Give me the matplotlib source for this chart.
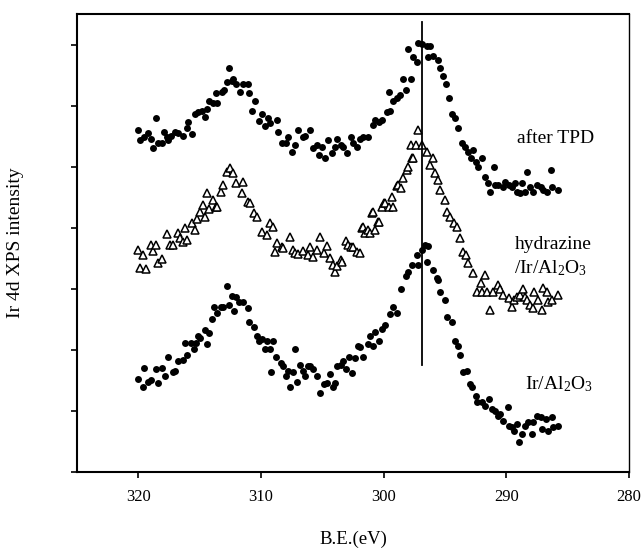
import matplotlib
matplotlib.use("Agg")
import matplotlib.pyplot as plt

plt.rcParams['font.family'] = ['Liberation Serif', 'DejaVu Serif']
plt.rcParams['mathtext.fontset'] = 'custom'
plt.rcParams['mathtext.rm'] = 'Liberation Serif'
plt.rcParams['mathtext.it'] = 'Liberation Serif:italic'

# ---- data: after TPD (filled circles) ----
tpd_x = [320.0, 319.9, 319.5, 319.2, 319.0, 318.8, 318.6, 318.4, 318.1, 317.9, 317.7, 317.6, 317.3, 317.0,
         316.8, 316.4, 316.0, 315.95, 315.6, 315.4, 315.1, 314.8, 314.6, 314.4, 314.2, 313.9, 313.7, 313.6,
         313.2, 313.0, 312.8, 312.6, 312.4, 312.3, 312.0, 311.7, 311.5, 311.1, 311.0, 310.7, 310.5, 310.2,
         309.9, 309.7, 309.4, 309.3, 308.7, 308.6, 308.3, 308.0, 307.8, 307.5, 307.2, 307.0, 306.6, 306.4,
         306.0, 305.8, 305.4, 305.3, 305.0, 304.8, 304.5, 304.2, 304.0, 303.8, 303.5, 303.3, 303.0, 302.7,
         302.5, 302.2, 301.9, 301.7, 301.3, 300.9, 300.7, 300.4, 300.1, 299.7, 299.6, 299.5, 299.2, 298.9,
         298.7, 298.4, 298.2, 298.0, 297.8, 297.6, 297.3, 297.2, 296.9, 296.5, 296.4, 296.2, 296.0, 295.6,
         295.4, 295.2, 294.9, 294.7, 294.4, 294.2, 293.9, 293.6, 293.4, 293.1, 292.9, 292.7, 292.5, 292.3,
         292.0, 291.7, 291.5, 291.3, 291.0, 290.9, 290.7, 290.3, 290.1, 289.8, 289.5, 289.3, 289.1, 288.9,
         288.7, 288.5, 288.3, 288.1, 287.8, 287.5, 287.2, 287.0, 286.7, 286.35, 286.25, 285.8]
tpd_y = [5.60, 5.43, 5.48, 5.55, 5.46, 5.30, 5.79, 5.38, 5.38, 5.56, 5.48, 5.43, 5.51, 5.56,
         5.55, 5.50, 5.64, 5.73, 5.53, 5.87, 5.89, 5.92, 5.82, 5.95, 6.08, 6.05, 6.20, 6.04,
         6.22, 6.26, 6.39, 6.62, 6.41, 6.43, 6.36, 6.22, 6.36, 6.36, 6.20, 5.91, 6.08, 5.74,
         5.87, 5.66, 5.79, 5.71, 5.76, 5.56, 5.38, 5.38, 5.48, 5.24, 5.35, 5.60, 5.48, 5.50,
         5.60, 5.30, 5.35, 5.19, 5.32, 5.15, 5.43, 5.22, 5.32, 5.46, 5.35, 5.32, 5.22, 5.48,
         5.38, 5.32, 5.46, 5.48, 5.48, 5.68, 5.76, 5.73, 5.77, 5.89, 6.22, 5.92, 6.08, 6.13,
         6.17, 6.43, 6.25, 6.92, 6.43, 6.79, 6.72, 7.03, 7.01, 6.98, 6.79, 6.97, 6.82, 6.74,
         6.61, 6.49, 6.36, 6.13, 5.87, 5.79, 5.64, 5.38, 5.32, 5.24, 5.14, 5.27, 5.07, 4.99,
         5.15, 4.83, 4.73, 4.58, 4.99, 4.70, 4.70, 4.67, 4.75, 4.70, 4.67, 4.73, 4.58, 4.57,
         4.73, 4.58, 4.91, 4.67, 4.58, 4.70, 4.67, 4.62, 4.58, 4.94, 4.67, 4.62]

# ---- data: hydrazine/Ir/Al2O3 (open triangles) ----
hyd_x = [320.0, 319.9, 319.6, 319.4, 319.0, 318.8, 318.6, 318.4, 318.1, 317.7, 317.4, 317.2, 316.8, 316.6,
         316.4, 316.2, 316.0, 315.6, 315.4, 315.2, 315.0, 314.7, 314.6, 314.4, 314.2, 313.9, 313.7, 313.6,
         313.3, 313.1, 312.8, 312.5, 312.3, 312.0, 311.55, 311.45, 311.1, 310.9, 310.6, 310.3, 309.9, 309.5,
         309.3, 309.0, 308.9, 308.7, 308.3, 308.2, 307.6, 307.4, 307.2, 307.0, 306.6, 306.2, 306.0, 305.8,
         305.4, 305.2, 304.9, 304.6, 304.4, 304.1, 304.0, 303.8, 303.5, 303.4, 303.1, 302.9, 302.7, 302.5,
         302.2, 301.9, 301.8, 301.7, 301.5, 301.3, 301.1, 300.95, 300.85, 300.7, 300.5, 300.4, 300.1, 300.0,
         299.9, 299.6, 299.3, 299.2, 298.9, 298.8, 298.6, 298.4, 298.1, 298.0, 297.8, 297.7, 297.6, 297.4,
         297.2, 296.9, 296.5, 296.2, 296.0, 295.8, 295.6, 295.4, 295.0, 294.8, 294.6, 294.3, 294.0, 293.8,
         293.5, 293.25, 293.15, 292.7, 292.4, 292.05, 291.95, 291.7, 291.6, 291.3, 291.1, 290.7, 290.5, 290.3,
         289.8, 289.5, 289.4, 289.1, 288.9, 288.6, 288.5, 288.3, 288.1, 287.85, 287.75, 287.4, 287.1, 287.0,
         286.7, 286.6, 286.3, 285.8]
hyd_y = [3.64, 3.34, 3.56, 3.33, 3.72, 3.62, 3.72, 3.43, 3.49, 3.90, 3.72, 3.72, 3.92, 3.83,
         3.77, 4.00, 3.80, 4.08, 3.96, 4.14, 4.26, 4.37, 4.18, 4.57, 4.31, 4.45, 4.34, 4.34,
         4.58, 4.70, 4.91, 4.98, 4.89, 4.73, 4.57, 4.75, 4.42, 4.40, 4.24, 4.18, 3.93, 3.88,
         4.08, 4.01, 3.61, 3.75, 3.69, 3.67, 3.85, 3.64, 3.59, 3.57, 3.62, 3.56, 3.69, 3.52,
         3.64, 3.85, 3.59, 3.70, 3.51, 3.39, 3.28, 3.38, 3.47, 3.44, 3.78, 3.72, 3.69, 3.69,
         3.61, 3.59, 4.00, 4.01, 3.92, 3.96, 3.92, 4.24, 4.26, 3.96, 4.09, 4.09, 4.34, 4.40,
         4.40, 4.34, 4.50, 4.34, 4.68, 4.70, 4.65, 4.81, 4.94, 4.99, 5.35, 5.15, 5.15, 5.35,
         5.60, 5.35, 5.24, 5.02, 5.15, 4.89, 4.78, 4.62, 4.45, 4.26, 4.18, 4.08, 4.01, 3.83,
         3.61, 3.56, 3.43, 3.26, 2.95, 3.10, 2.95, 3.23, 2.95, 2.66, 2.95, 3.07, 2.99, 2.90,
         2.85, 2.71, 2.82, 2.87, 2.90, 2.99, 2.87, 2.82, 2.74, 2.69, 2.95, 2.82, 2.66, 3.02,
         2.95, 2.79, 2.82, 2.90]

# ---- data: Ir/Al2O3 (filled circles) ----
ir_x = [320.0, 319.6, 319.5, 319.2, 319.0, 318.6, 318.4, 318.1, 317.8, 317.6, 317.2, 317.0, 316.8, 316.4,
        316.2, 316.0, 315.7, 315.5, 315.3, 315.1, 315.0, 314.6, 314.4, 314.2, 314.0, 313.8, 313.6, 313.3,
        313.1, 312.8, 312.6, 312.4, 312.2, 312.0, 311.8, 311.5, 311.1, 311.0, 310.6, 310.3, 310.2, 309.9,
        309.7, 309.5, 309.3, 309.2, 309.0, 308.8, 308.4, 308.2, 308.0, 307.8, 307.6, 307.4, 307.2, 307.1,
        306.8, 306.6, 306.4, 306.2, 306.0, 305.8, 305.4, 305.2, 304.9, 304.6, 304.4, 304.1, 304.0, 303.8,
        303.5, 303.3, 303.1, 302.8, 302.6, 302.3, 302.1, 301.9, 301.7, 301.3, 301.1, 300.9, 300.7, 300.4,
        300.1, 299.9, 299.5, 299.2, 298.9, 298.6, 298.2, 298.0, 297.7, 297.3, 297.2, 296.9, 296.6, 296.5,
        296.4, 296.0, 295.65, 295.55, 295.4, 295.0, 294.8, 294.4, 294.2, 293.9, 293.8, 293.5, 293.2, 293.0,
        292.8, 292.5, 292.4, 292.0, 291.7, 291.4, 291.2, 290.9, 290.7, 290.5, 290.3, 289.9, 289.8, 289.5,
        289.4, 289.1, 289.0, 288.7, 288.5, 288.2, 287.9, 287.8, 287.5, 287.2, 287.1, 286.8, 286.6, 286.3,
        286.2, 285.8]
ir_y = [1.52, 1.40, 1.71, 1.48, 1.50, 1.68, 1.45, 1.71, 1.57, 1.88, 1.63, 1.65, 1.81, 1.84,
        2.12, 1.92, 2.12, 2.02, 2.12, 2.23, 2.20, 2.33, 2.09, 2.28, 2.50, 2.71, 2.61, 2.71,
        2.71, 3.05, 2.74, 2.89, 2.63, 2.87, 2.79, 2.79, 2.69, 2.45, 2.38, 2.23, 2.14, 2.17,
        2.01, 2.14, 2.01, 1.63, 2.14, 1.88, 1.79, 1.73, 1.57, 1.65, 1.40, 1.63, 2.01, 1.48,
        1.76, 1.65, 1.57, 1.73, 1.73, 1.68, 1.57, 1.29, 1.44, 1.45, 1.60, 1.39, 1.45, 1.73,
        1.76, 1.81, 1.68, 1.88, 1.62, 1.86, 2.06, 2.04, 1.89, 2.09, 2.22, 2.06, 2.30, 2.14,
        2.35, 2.41, 2.58, 2.71, 2.61, 3.00, 3.21, 3.28, 3.39, 3.56, 3.39, 3.64, 3.72, 3.44,
        3.70, 3.31, 3.18, 3.15, 2.94, 2.82, 2.54, 2.45, 2.14, 2.06, 1.92, 1.63, 1.65, 1.44,
        1.40, 1.24, 1.14, 1.14, 1.08, 1.19, 1.03, 1.00, 0.91, 0.95, 0.83, 1.06, 0.75, 0.73,
        0.67, 0.78, 0.49, 0.62, 0.75, 0.82, 0.62, 0.82, 0.91, 0.90, 0.70, 0.86, 0.67, 0.90,
        0.73, 0.75]

x_ticks = [320, 310, 300, 290, 280]
peak_line_x = 296.9
peak_line_y = (1.76, 7.37)

fig = plt.figure(figsize=(6.43, 5.5), dpi=100)
ax = fig.add_axes([0.1198, 0.1418, 0.8584, 0.8327])

ax.plot(tpd_x, tpd_y, 'o', color='black', markersize=5.0, markeredgewidth=0)
ax.plot(hyd_x, hyd_y, '^', markerfacecolor='white', markeredgecolor='black',
        markersize=6.2, markeredgewidth=1.1)
ax.plot(ir_x, ir_y, 'o', color='black', markersize=5.0, markeredgewidth=0)

ax.plot([peak_line_x, peak_line_x], peak_line_y, color='black', linewidth=1.3)

ax.set_xlim(325, 280)
ax.set_ylim(0, 7.5)
ax.set_xticks(x_ticks)
ax.set_yticks(range(0, 8))
ax.set_yticklabels([])
ax.tick_params(axis='both', direction='out', length=4.5, width=1.2, labelsize=12)
ax.tick_params(axis='x', pad=8)
for s in ['left', 'bottom', 'top']:
    ax.spines[s].set_linewidth(1.5)
ax.spines['right'].set_linewidth(1.0)

ax.set_xlabel('B.E.(eV)', fontsize=13.5, labelpad=18)
ax.set_ylabel('Ir 4d XPS intensity', fontsize=14, labelpad=30)

ax.text(289.1, 5.46, 'after TPD', fontsize=14, ha='left', va='center')
ax.text(289.3, 3.72, 'hydrazine', fontsize=14, ha='left', va='center')
ax.text(289.4, 3.34, r'/Ir/Al$\mathregular{_2}$O$\mathregular{_3}$', fontsize=14, ha='left', va='center')
ax.text(288.5, 1.44, r'Ir/Al$\mathregular{_2}$O$\mathregular{_3}$', fontsize=14, ha='left', va='center')

fig.savefig('out.png', dpi=100)
